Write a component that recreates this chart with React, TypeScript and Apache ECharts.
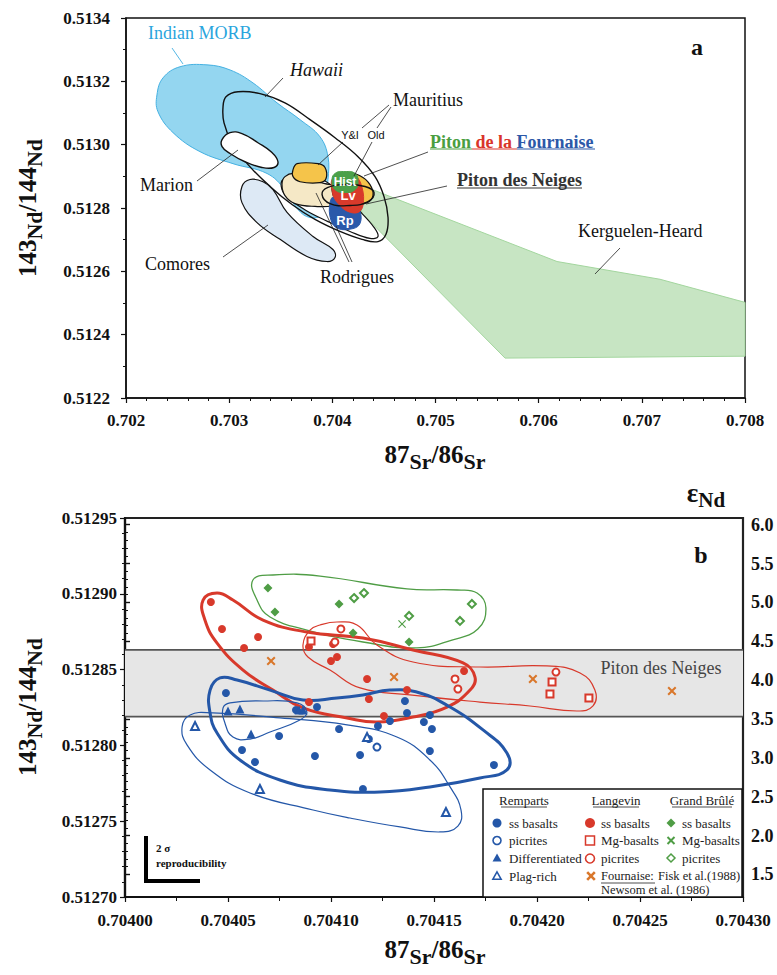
import React, { useEffect, useRef } from 'react';
import * as echarts from 'echarts';

const SERIF = '"Liberation Serif", "Times New Roman", serif';
const SANS = '"Liberation Sans", Arial, sans-serif';

// ---------- Panel a : regions (87Sr/86Sr, 143Nd/144Nd) ----------
const KERGUELEN = [[0.704239, 0.512877], [0.706178, 0.512631], [0.707176, 0.512575], [0.708, 0.512502], [0.708, 0.512332], [0.705674, 0.512326], [0.704288, 0.512783]];
const MORB = [[0.7023, 0.513157], [0.702359, 0.513211], [0.702523, 0.513246], [0.702785, 0.513252], [0.703008, 0.513236], [0.703231, 0.513195], [0.703464, 0.513132], [0.703687, 0.513079], [0.70388, 0.513025], [0.703958, 0.512962], [0.703958, 0.51289], [0.703929, 0.512827], [0.7039, 0.51278], [0.703784, 0.51277], [0.703667, 0.512795], [0.703541, 0.512858], [0.703367, 0.512909], [0.703037, 0.51294], [0.702717, 0.512978], [0.702456, 0.513038], [0.70231, 0.513104]];
const HAWAII = [[0.70294, 0.513117], [0.702969, 0.513151], [0.703086, 0.513167], [0.703299, 0.513161], [0.703541, 0.513132], [0.703784, 0.513079], [0.704026, 0.513022], [0.704249, 0.512962], [0.704414, 0.512899], [0.704501, 0.512836], [0.70454, 0.51277], [0.70452, 0.512717], [0.704443, 0.512694], [0.704288, 0.512701], [0.704074, 0.512726], [0.703832, 0.512764], [0.703609, 0.512811], [0.703396, 0.512868], [0.703183, 0.512937], [0.703027, 0.513006], [0.70295, 0.513069]];
const MARION = [[0.702931, 0.513016], [0.703008, 0.513038], [0.703124, 0.513035], [0.703279, 0.513006], [0.703415, 0.512975], [0.703473, 0.512946], [0.703435, 0.512928], [0.703318, 0.512928], [0.703153, 0.512946], [0.703008, 0.512972], [0.702931, 0.512994]];
const COMORES = [[0.703124, 0.512868], [0.703202, 0.51289], [0.703328, 0.512883], [0.703425, 0.512858], [0.703561, 0.512786], [0.703813, 0.51271], [0.704006, 0.512669], [0.704026, 0.512644], [0.703948, 0.512631], [0.703754, 0.512647], [0.703493, 0.512701], [0.70327, 0.512754], [0.703124, 0.512817]];
const RODRIGUES_OUTER = [[0.703522, 0.51289], [0.703687, 0.512902], [0.7039, 0.51289], [0.704094, 0.512843], [0.704268, 0.512789], [0.704404, 0.512739], [0.704443, 0.51271], [0.704365, 0.512704], [0.704171, 0.512726], [0.703958, 0.512757], [0.703745, 0.512792], [0.70358, 0.51283], [0.703512, 0.512858]];
const RODRIGUES = [[0.703512, 0.512874], [0.703541, 0.512899], [0.703638, 0.512909], [0.703735, 0.51289], [0.703929, 0.512877], [0.704045, 0.512865], [0.704074, 0.512827], [0.704006, 0.512808], [0.703832, 0.512805], [0.703638, 0.512814], [0.703541, 0.512839]];
const MAURITIUS_YI = [[0.703619, 0.512921], [0.703658, 0.51294], [0.703861, 0.51294], [0.703929, 0.512928], [0.703939, 0.512893], [0.70388, 0.51288], [0.703687, 0.512883], [0.703619, 0.512899]];
const MAURITIUS_OLD = [[0.704006, 0.51289], [0.704123, 0.512912], [0.704268, 0.512902], [0.704365, 0.512874], [0.704394, 0.512839], [0.704336, 0.512817], [0.704171, 0.512811], [0.704026, 0.512827]];
const PDF_RP = [[0.703977, 0.512817], [0.704026, 0.512839], [0.704171, 0.512833], [0.704268, 0.512789], [0.704268, 0.512751], [0.7042, 0.512735], [0.704055, 0.512735], [0.703987, 0.512761]];
const PDF_LV = [[0.703997, 0.51289], [0.704074, 0.512909], [0.70422, 0.512902], [0.704288, 0.512865], [0.704297, 0.512808], [0.704249, 0.512786], [0.704152, 0.512789], [0.704074, 0.512808], [0.704016, 0.512833], [0.703997, 0.512858]];
const PDF_HIST = [[0.703997, 0.512883], [0.704026, 0.512909], [0.704123, 0.512915], [0.70422, 0.512909], [0.704249, 0.512883], [0.70422, 0.512858], [0.704123, 0.512849], [0.704026, 0.512858]];
const PDN = [[0.7039, 0.512843], [0.703958, 0.512865], [0.704123, 0.512874], [0.704317, 0.512868], [0.704404, 0.512849], [0.704346, 0.51282], [0.704171, 0.512808], [0.703977, 0.512814]];
const BLOB_LABELS = ['Hist', 'Lv', 'Rp'];
const BLOB_LABEL_AT = [[0.704123, 0.512882], [0.704152, 0.512839], [0.704123, 0.512761]];

// ---------- Panel b : samples ----------
const PDN_BAND = [0.512819, 0.512863];
const GB_SS = [[0.7040694, 0.5129038], [0.7040728, 0.512888], [0.7041039, 0.5128933], [0.7041107, 0.5128741], [0.7041379, 0.5128682]];
const GB_MG = [[0.7041345, 0.5128801]];
const GB_PIC = [[0.7041112, 0.5128972], [0.704116, 0.5129005], [0.7041379, 0.5128854], [0.7041626, 0.5128821], [0.7041684, 0.5128933]];
const LV_SS = [[0.7040417, 0.5128946], [0.7040471, 0.5128768], [0.7040646, 0.5128715], [0.7040578, 0.5128643], [0.7040893, 0.5128649], [0.704101, 0.5128669], [0.7041, 0.5128557], [0.7041029, 0.5128583], [0.7041175, 0.5128438], [0.7041369, 0.5128365], [0.7041184, 0.5128306], [0.7040893, 0.5128286], [0.7041257, 0.5128194], [0.7041646, 0.5128491]];
const LV_MG = [[0.7040903, 0.5128689], [0.7042073, 0.5128418], [0.7042063, 0.5128339], [0.7042252, 0.5128313]];
const LV_PIC = [[0.7041048, 0.5128768], [0.7041019, 0.5128682], [0.7041602, 0.5128438], [0.7041616, 0.5128372], [0.7042092, 0.5128484]];
const RP_SS = [[0.704049, 0.5128346], [0.7040932, 0.5128253], [0.7041039, 0.5128108], [0.7040748, 0.5128062], [0.7040568, 0.512797], [0.7040631, 0.5127891], [0.7040922, 0.512793], [0.7041141, 0.5127937], [0.7041184, 0.5128042], [0.7041228, 0.5128128], [0.7041286, 0.5128161], [0.7041359, 0.5128293], [0.7041369, 0.5128214], [0.704148, 0.5128201], [0.7041451, 0.5128154], [0.704149, 0.5128108], [0.704148, 0.5127963], [0.7041791, 0.5127871], [0.7041155, 0.5127712], [0.704083, 0.5128234]];
const RP_PIC = [[0.7041223, 0.5127989]];
const RP_DIFF = [[0.70405, 0.5128227], [0.7040558, 0.512824], [0.7040612, 0.5128075], [0.7040845, 0.5128234], [0.7040864, 0.5128234]];
const RP_PLAG = [[0.704034, 0.5128128], [0.7040655, 0.5127712], [0.7041175, 0.5128055], [0.7041558, 0.5127561]];
const FOURNAISE_LIT = [[0.7040709, 0.5128557], [0.7041306, 0.5128451], [0.704198, 0.5128438], [0.7042655, 0.5128359]];

const GB_ENV = [[0.7040621, 0.5129091], [0.7040718, 0.5129124], [0.7040947, 0.5129117], [0.7041369, 0.5129032], [0.7041612, 0.5129025], [0.7041709, 0.5129005], [0.7041752, 0.5128906], [0.7041713, 0.5128768], [0.7041587, 0.5128695], [0.7041417, 0.5128643], [0.7041155, 0.5128682], [0.7040883, 0.5128761], [0.7040704, 0.5128847], [0.7040641, 0.5128959]];
const LV_SS_ENV = [[0.7040379, 0.5128959], [0.7040447, 0.5129005], [0.7040524, 0.5128959], [0.704067, 0.5128827], [0.7040883, 0.5128748], [0.7041155, 0.5128708], [0.7041398, 0.5128629], [0.7041641, 0.5128544], [0.7041699, 0.5128451], [0.7041675, 0.5128365], [0.7041563, 0.5128253], [0.7041398, 0.5128187], [0.7041223, 0.5128154], [0.7041078, 0.5128181], [0.7040864, 0.5128247], [0.7040718, 0.5128365], [0.7040573, 0.5128497], [0.7040447, 0.5128675], [0.7040388, 0.5128827]];
const LV_PIC_ENV = [[0.7040864, 0.5128662], [0.7040898, 0.5128761], [0.7040947, 0.5128794], [0.7041029, 0.5128814], [0.7041126, 0.5128794], [0.7041223, 0.5128662], [0.7041398, 0.512855], [0.7041723, 0.5128517], [0.7042048, 0.5128524], [0.7042209, 0.5128478], [0.7042281, 0.5128365], [0.7042272, 0.512826], [0.7042194, 0.5128227], [0.7041966, 0.512826], [0.7041723, 0.5128286], [0.7041383, 0.5128333], [0.7041141, 0.5128379], [0.7040995, 0.5128497], [0.7040888, 0.5128583]];
const RP_SS_ENV = [[0.7040413, 0.5128365], [0.7040461, 0.5128445], [0.7040544, 0.5128431], [0.7040704, 0.5128365], [0.7040864, 0.51283], [0.7041029, 0.5128313], [0.7041155, 0.5128333], [0.7041286, 0.5128365], [0.7041432, 0.5128346], [0.7041578, 0.5128253], [0.7041738, 0.5128102], [0.7041854, 0.512795], [0.7041854, 0.5127838], [0.7041723, 0.5127785], [0.704148, 0.5127726], [0.7041238, 0.5127693], [0.7040995, 0.5127706], [0.7040752, 0.5127772], [0.7040558, 0.5127904], [0.7040447, 0.5128082], [0.7040413, 0.5128214]];
const RP_DIFF_ENV = [[0.7040476, 0.5128247], [0.704051, 0.512828], [0.704067, 0.5128293], [0.7040835, 0.512828], [0.7040883, 0.512822], [0.7040849, 0.5128168], [0.7040704, 0.5128088], [0.7040607, 0.5128042], [0.7040524, 0.5128055], [0.7040485, 0.5128148]];
const RP_PLAG_ENV = [[0.7040277, 0.5128121], [0.7040316, 0.5128201], [0.7040427, 0.5128214], [0.7040752, 0.5128181], [0.7041078, 0.5128135], [0.704132, 0.5128055], [0.704148, 0.5127904], [0.7041578, 0.5127726], [0.7041631, 0.5127574], [0.7041616, 0.5127468], [0.7041529, 0.5127429], [0.7041335, 0.5127462], [0.7041092, 0.5127521], [0.7040913, 0.5127574], [0.7040607, 0.5127686], [0.7040413, 0.5127838], [0.7040301, 0.5128003]];

// ---------- axes ----------
const CHUR = 0.512638;
const A_X = [0.702, 0.708];
const A_Y = [0.5122, 0.5134];
const B_X = [0.704, 0.7043];
const B_Y = [0.5127, 0.51295];
const EPS_RANGE = [1.5, 6.0];

const GRID_A = { left: 126, top: 18, width: 619, height: 380 };
const GRID_B = { left: 125, top: 518, width: 618, height: 379 };

const BLUE = '#2457a8';
const RED = '#d8392b';
const GREEN = '#4f9d45';
const ORANGE = '#d9772b';

function epsToY(e: number) {
  const nd = CHUR * (1 + e * 1e-4);
  return GRID_B.top + ((B_Y[1] - nd) / (B_Y[1] - B_Y[0])) * GRID_B.height;
}

const XPATH = 'path://M0,1.6 L1.6,0 L5,3.4 L8.4,0 L10,1.6 L6.6,5 L10,8.4 L8.4,10 L5,6.6 L1.6,10 L0,8.4 L3.4,5 Z';
const XPATH_THIN = 'path://M0,1 L1,0 L5,4 L9,0 L10,1 L6,5 L10,9 L9,10 L5,6 L1,10 L0,9 L4,5 Z';

const TOP_REGIONS: any[] = [
  { pts: KERGUELEN, fill: '#c7e5c3', stroke: '#a3d69e', lw: 1, smooth: 0 },
  { pts: MORB, fill: '#94d6f0', stroke: '#45b1e2', lw: 1, smooth: 0.4 },
  { pts: HAWAII, fill: 'transparent', stroke: '#111', lw: 1.4, smooth: 0.4 },
  { pts: COMORES, fill: '#dde9f5', stroke: '#111', lw: 1.2, smooth: 0.4 },
  { pts: MARION, fill: '#fff', stroke: '#111', lw: 1.4, smooth: 0.45 },
  { pts: RODRIGUES_OUTER, fill: '#fff', stroke: '#111', lw: 1.2, smooth: 0.4 },
  { pts: RODRIGUES, fill: '#f5e8c6', stroke: '#111', lw: 1.2, smooth: 0.4 },
  { pts: MAURITIUS_YI, fill: '#f5c44a', stroke: '#111', lw: 1.2, smooth: 0.35 },
  { pts: MAURITIUS_OLD, fill: '#f5c44a', stroke: '#111', lw: 1.2, smooth: 0.35 },
  { pts: PDF_RP, fill: '#2a59aa', stroke: '#2a59aa', lw: 1, smooth: 0.4 },
  { pts: PDF_LV, fill: '#d83a2b', stroke: '#d83a2b', lw: 1, smooth: 0.4 },
  { pts: PDF_HIST, fill: '#4ba04a', stroke: '#4ba04a', lw: 1, smooth: 0.5 },
  { pts: PDN, fill: 'transparent', stroke: '#111', lw: 1.4, smooth: 0.45 },
];

const BOTTOM_OUTLINES: any[] = [
  { pts: GB_ENV, stroke: GREEN, lw: 1.3 },
  { pts: LV_PIC_ENV, stroke: RED, lw: 1.2 },
  { pts: LV_SS_ENV, stroke: RED, lw: 3 },
  { pts: RP_PLAG_ENV, stroke: BLUE, lw: 1.2 },
  { pts: RP_DIFF_ENV, stroke: BLUE, lw: 1.2 },
  { pts: RP_SS_ENV, stroke: BLUE, lw: 3 },
];

const txt = (text: string, x: number, y: number, o: any = {}) => ({
  type: 'text', x, y, z: 100,
  style: { text, fill: '#111', fontFamily: SERIF, fontSize: 18, align: 'left', verticalAlign: 'middle', ...o },
});
const ln = (x1: number, y1: number, x2: number, y2: number, o: any = {}) => ({
  type: 'line', z: 100, shape: { x1, y1, x2, y2 }, style: { stroke: '#222', lineWidth: 0.8, ...o },
});

const titleRich = {
  n: { fontFamily: SERIF, fontWeight: 'bold', fontSize: 25, fill: '#111', verticalAlign: 'top' },
  e: { fontFamily: SERIF, fontWeight: 'bold', fontSize: 22, fill: '#111', verticalAlign: 'bottom', padding: [9, 0, 0, 0] },
};

function legendElements() {
  const els: any[] = [];
  els.push({ type: 'rect', z: 100, shape: { x: 483, y: 789, width: 259, height: 108 }, style: { fill: '#fff', stroke: '#111', lineWidth: 1.5 } });
  const lt = (s: string, x: number, y: number, o: any = {}) => txt(s, x, y, { fontSize: 13, fill: '#222', ...o });
  const headers = [['Remparts', 524], ['Langevin', 616], ['Grand Brûlé', 702]] as [string, number][];
  headers.forEach(([h, cx]) => {
    els.push(lt(h, cx, 800, { align: 'center' }));
  });
  els.push(ln(501, 807, 547, 807, { lineWidth: 0.8 }));
  els.push(ln(593, 807, 639, 807, { lineWidth: 0.8 }));
  els.push(ln(672, 807, 732, 807, { lineWidth: 0.8 }));
  const circ = (cx: number, cy: number, r: number, c: string, filled: boolean) => ({ type: 'circle', z: 101, shape: { cx, cy, r }, style: filled ? { fill: c } : { fill: '#fff', stroke: c, lineWidth: 1.6 } });
  const tri = (cx: number, cy: number, s: number, c: string, filled: boolean) => ({ type: 'polygon', z: 101, shape: { points: [[cx, cy - s], [cx + s, cy + s * 0.8], [cx - s, cy + s * 0.8]] }, style: filled ? { fill: c } : { fill: '#fff', stroke: c, lineWidth: 1.5 } });
  const dia = (cx: number, cy: number, s: number, c: string, filled: boolean) => ({ type: 'polygon', z: 101, shape: { points: [[cx, cy - s], [cx + s, cy], [cx, cy + s], [cx - s, cy]] }, style: filled ? { fill: c } : { fill: '#fff', stroke: c, lineWidth: 1.5 } });
  const xm = (cx: number, cy: number, s: number, c: string, w: number) => [ln(cx - s, cy - s, cx + s, cy + s, { stroke: c, lineWidth: w }), ln(cx - s, cy + s, cx + s, cy - s, { stroke: c, lineWidth: w })];
  // Remparts
  els.push(circ(497, 823, 4.5, BLUE, true), lt('ss basalts', 509, 823));
  els.push(circ(497, 840.5, 4, BLUE, false), lt('picrites', 509, 840.5));
  els.push(tri(497, 858, 4.5, BLUE, true), lt('Differentiated', 509, 858));
  els.push(tri(497, 876, 4.2, BLUE, false), lt('Plag-rich', 509, 876));
  // Langevin
  els.push(circ(590, 823, 5, RED, true), lt('ss basalts', 601, 823));
  els.push({ type: 'rect', z: 101, shape: { x: 585.5, y: 836, width: 9, height: 9 }, style: { fill: '#fff', stroke: RED, lineWidth: 1.5 } }, lt('Mg-basalts', 601, 840.5));
  els.push(circ(590, 858.5, 4.5, RED, false), lt('picrites', 601, 858.5));
  els.push(...xm(591, 876, 3.8, ORANGE, 2.6));
  els.push(lt('Fournaise:', 601, 876, { fontSize: 12.5 }), ln(601, 883, 655, 883, { lineWidth: 0.8 }));
  els.push(lt('Fisk et al.(1988)', 658, 876, { fontSize: 12.5 }));
  els.push(lt('Newsom et al. (1986)', 601, 890, { fontSize: 12.5 }));
  // Grand Brule
  els.push(dia(671, 823, 4.5, GREEN, true), lt('ss basalts', 682, 823));
  els.push(...xm(671, 840.5, 3.5, GREEN, 2), lt('Mg-basalts', 682, 840.5));
  els.push(dia(671, 858, 4, GREEN, false), lt('picrites', 682, 858));
  return els;
}

function buildOption() {
  const eTop = epsToY(EPS_RANGE[1]);
  const eBot = epsToY(EPS_RANGE[0]);
  const axisLabel = (digits: number, size: number, margin: number) => ({
    formatter: (v: number) => v.toFixed(digits), fontFamily: SERIF, fontWeight: 'bold', fontSize: size, color: '#111', margin,
  });
  const baseAxis = (lineW: number) => ({
    type: 'value',
    axisLine: { show: true, onZero: false, lineStyle: { color: '#111', width: lineW } },
    axisTick: { show: true, length: 5, lineStyle: { color: '#111', width: 1.2 } },
    splitLine: { show: false },
  });

  const scat = (name: string, data: number[][], symbol: string, size: number, color: string, empty = false) => ({
    type: 'scatter', name, xAxisIndex: 1, yAxisIndex: 1, data, symbol, symbolSize: size, z: 5,
    itemStyle: empty ? { color, borderColor: color, borderWidth: 1.5, opacity: 1 } : { color, borderWidth: 0, opacity: 1 },
    emphasis: { disabled: true },
  });

  const graphics: any[] = [
    // panel a annotations
    txt('Indian MORB', 148, 33, { fill: '#2aa5dd' }), ln(172, 48, 183, 64, { stroke: '#2aa5dd' }),
    txt('Hawaii', 290, 70, { fontStyle: 'italic' }), ln(283, 78, 265, 97),
    txt('Mauritius', 393, 100), ln(389, 105, 362, 128), ln(391, 107, 377, 128),
    txt('Y&I', 350, 135, { fontFamily: SANS, fontSize: 11, align: 'center' }),
    txt('Old', 376, 135, { fontFamily: SANS, fontSize: 11, align: 'center' }),
    ln(343, 142, 318, 165), ln(372, 142, 354, 176),
    txt('Marion', 140, 185), ln(197, 181, 238, 150),
    txt('Comores', 145, 264), ln(223, 257, 268, 225),
    txt('Rodrigues', 320, 277), ln(349, 262, 316, 193), ln(352, 262, 336, 226),
    {
      type: 'text', x: 430, y: 142, z: 100,
      style: {
        text: '{g|Piton }{r|de la }{b|Fournaise}', align: 'left', verticalAlign: 'middle',
        rich: {
          g: { fill: '#4a9e3f', fontFamily: SERIF, fontWeight: 'bold', fontSize: 18 },
          r: { fill: '#d9352a', fontFamily: SERIF, fontWeight: 'bold', fontSize: 18 },
          b: { fill: '#2b58a8', fontFamily: SERIF, fontWeight: 'bold', fontSize: 18 },
        },
      },
    },
    ln(430, 149, 472, 149, { stroke: '#4a9e3f', lineWidth: 1.2 }),
    ln(472, 149, 517, 149, { stroke: '#d9352a', lineWidth: 1.2 }),
    ln(517, 149, 595, 149, { stroke: '#2b58a8', lineWidth: 1.2 }),
    ln(428, 152, 364, 176),
    txt('Piton des Neiges', 457, 180, { fontWeight: 'bold', fill: '#333' }),
    ln(457, 188, 582, 188, { stroke: '#333', lineWidth: 1.2 }),
    ln(447, 186, 366, 204),
    txt('Kerguelen-Heard', 578, 231), ln(620, 248, 595, 274),
    txt('a', 697, 47, { fontWeight: 'bold', fontSize: 24, align: 'center' }),
    // axis titles panel a
    { type: 'text', x: 435, y: 457, z: 100, style: { text: '{n|87}{e|Sr}{n|/86}{e|Sr}', rich: titleRich, align: 'center', verticalAlign: 'middle' } },
    { type: 'text', x: 30, y: 208, rotation: Math.PI / 2, z: 100, style: { text: '{n|143}{e|Nd}{n|/144}{e|Nd}', rich: titleRich, align: 'center', verticalAlign: 'middle' } },
    // panel b
    { type: 'text', x: 435, y: 952, z: 100, style: { text: '{n|87}{e|Sr}{n|/86}{e|Sr}', rich: titleRich, align: 'center', verticalAlign: 'middle' } },
    { type: 'text', x: 30, y: 707, rotation: Math.PI / 2, z: 100, style: { text: '{n|143}{e|Nd}{n|/144}{e|Nd}', rich: titleRich, align: 'center', verticalAlign: 'middle' } },
    {
      type: 'text', x: 706, y: 495, z: 100,
      style: {
        text: '{g|ε}{s|Nd}', align: 'center', verticalAlign: 'middle',
        rich: {
          g: { fontFamily: SERIF, fontWeight: 'bold', fontSize: 27, fill: '#111', verticalAlign: 'top' },
          s: { fontFamily: SERIF, fontWeight: 'bold', fontSize: 21, fill: '#111', verticalAlign: 'bottom', padding: [10, 0, 0, 0] },
        },
      },
    },
    txt('b', 701, 555, { fontWeight: 'bold', fontSize: 24, align: 'center' }),
    txt('Piton des Neiges', 661, 668, { fill: '#444', align: 'center' }),
    ln(146, 836, 146, 883, { stroke: '#000', lineWidth: 4 }),
    ln(144, 881, 200, 881, { stroke: '#000', lineWidth: 4 }),
    txt('2 σ', 156, 848, { fontWeight: 'bold', fontSize: 11 }),
    txt('reproducibility', 156, 863, { fontWeight: 'bold', fontSize: 11 }),
    ...legendElements(),
  ];

  return {
    animation: false,
    backgroundColor: '#fff',
    grid: [
      { ...GRID_A, show: true, borderColor: '#111', borderWidth: 1.5, backgroundColor: 'transparent' },
      { ...GRID_B, show: true, borderColor: '#222', borderWidth: 2.2, backgroundColor: 'transparent' },
      { left: GRID_B.left, width: GRID_B.width, top: eTop, height: eBot - eTop, show: false },
    ],
    xAxis: [
      { ...baseAxis(1.5), gridIndex: 0, min: A_X[0], max: A_X[1], interval: 0.001, minorTick: { show: true, splitNumber: 5, length: 3, lineStyle: { color: '#111' } }, axisLabel: axisLabel(3, 17, 14) },
      { ...baseAxis(2), gridIndex: 1, min: B_X[0], max: B_X[1], interval: 0.00005, minorTick: { show: true, splitNumber: 2, length: 4, lineStyle: { color: '#111' } }, axisLabel: axisLabel(5, 17, 15) },
      { type: 'value', gridIndex: 2, show: false, min: 0, max: 1 },
    ],
    yAxis: [
      { ...baseAxis(1.5), gridIndex: 0, min: A_Y[0], max: A_Y[1], interval: 0.0002, minorTick: { show: true, splitNumber: 2, length: 3, lineStyle: { color: '#111' } }, axisLabel: axisLabel(4, 17, 16) },
      { ...baseAxis(2.2), gridIndex: 1, min: B_Y[0], max: B_Y[1], interval: 0.00005, minorTick: { show: true, splitNumber: 5, length: 3, lineStyle: { color: '#111' } }, axisLabel: axisLabel(5, 17, 8) },
      {
        type: 'value', gridIndex: 2, position: 'right', min: EPS_RANGE[0], max: EPS_RANGE[1], interval: 0.5,
        axisLine: { show: false }, splitLine: { show: false },
        axisTick: { show: true, length: 5, lineStyle: { color: '#111', width: 1.4 } },
        minorTick: { show: true, splitNumber: 5, length: 3, lineStyle: { color: '#111' } },
        axisLabel: axisLabel(1, 18, 8),
      },
    ],
    series: [
      {
        type: 'custom', name: 'regions', xAxisIndex: 0, yAxisIndex: 0, z: 2,
        data: TOP_REGIONS.map((r) => r.pts[0]),
        renderItem: (params: any, api: any) => {
          const r = TOP_REGIONS[params.dataIndex];
          const pts = r.pts.map((p: number[]) => api.coord(p));
          return { type: 'polygon', shape: { points: pts, smooth: r.smooth }, style: { fill: r.fill, stroke: r.stroke, lineWidth: r.lw } };
        },
      },
      {
        type: 'custom', name: 'blob labels', xAxisIndex: 0, yAxisIndex: 0, z: 3,
        data: BLOB_LABEL_AT,
        renderItem: (params: any, api: any) => {
          const c = api.coord(BLOB_LABEL_AT[params.dataIndex]);
          const label = BLOB_LABELS[params.dataIndex];
          return { type: 'text', x: c[0], y: c[1], style: { text: label, fill: '#fff', fontFamily: SANS, fontWeight: 'bold', fontSize: label === 'Hist' ? 12 : 13, align: 'center', verticalAlign: 'middle' } };
        },
      },
      {
        type: 'custom', name: 'band', xAxisIndex: 1, yAxisIndex: 1, z: 1,
        data: [[B_X[0], PDN_BAND[0]]],
        renderItem: (params: any, api: any) => {
          const cs = params.coordSys;
          const yTop = api.coord([B_X[0], PDN_BAND[1]])[1];
          const yBot = api.coord([B_X[0], PDN_BAND[0]])[1];
          return {
            type: 'group', children: [
              { type: 'rect', shape: { x: cs.x, y: yTop, width: cs.width, height: yBot - yTop }, style: { fill: '#e6e6e6' } },
              { type: 'line', shape: { x1: cs.x, y1: yTop, x2: cs.x + cs.width, y2: yTop }, style: { stroke: '#555', lineWidth: 1.6 } },
              { type: 'line', shape: { x1: cs.x, y1: yBot, x2: cs.x + cs.width, y2: yBot }, style: { stroke: '#555', lineWidth: 1.6 } },
            ],
          };
        },
      },
      {
        type: 'custom', name: 'envelopes', xAxisIndex: 1, yAxisIndex: 1, z: 3,
        data: BOTTOM_OUTLINES.map((r) => r.pts[0]),
        renderItem: (params: any, api: any) => {
          const r = BOTTOM_OUTLINES[params.dataIndex];
          const pts = r.pts.map((p: number[]) => api.coord(p));
          return { type: 'polygon', shape: { points: pts, smooth: 0.45 }, style: { fill: 'transparent', stroke: r.stroke, lineWidth: r.lw } };
        },
      },
      scat('Remparts ss basalts', RP_SS, 'circle', 8, BLUE),
      scat('Remparts picrites', RP_PIC, 'emptyCircle', 7, BLUE, true),
      scat('Remparts Differentiated', RP_DIFF, 'triangle', 9, BLUE),
      scat('Remparts Plag-rich', RP_PLAG, 'emptyTriangle', 8, BLUE, true),
      scat('Langevin ss basalts', LV_SS, 'circle', 8, RED),
      scat('Langevin Mg-basalts', LV_MG, 'emptyRect', 7, RED, true),
      scat('Langevin picrites', LV_PIC, 'emptyCircle', 7, RED, true),
      scat('Grand Brûlé ss basalts', GB_SS, 'diamond', 9, GREEN),
      scat('Grand Brûlé Mg-basalts', GB_MG, XPATH_THIN, 8, GREEN),
      scat('Grand Brûlé picrites', GB_PIC, 'emptyDiamond', 8, GREEN, true),
      scat('Fournaise (Fisk 1988, Newsom 1986)', FOURNAISE_LIT, XPATH, 9, ORANGE),
    ],
    graphic: { elements: graphics },
  };
}

export default function App() {
  const ref = useRef<HTMLDivElement>(null);
  useEffect(() => {
    if (!ref.current) return;
    const chart = echarts.init(ref.current, undefined, { renderer: 'svg' });
    chart.setOption(buildOption() as any);
    return () => chart.dispose();
  }, []);
  return <div ref={ref} style={{ position: 'fixed', left: 0, top: 0, width: 777, height: 975, background: '#fff' }} />;
}
